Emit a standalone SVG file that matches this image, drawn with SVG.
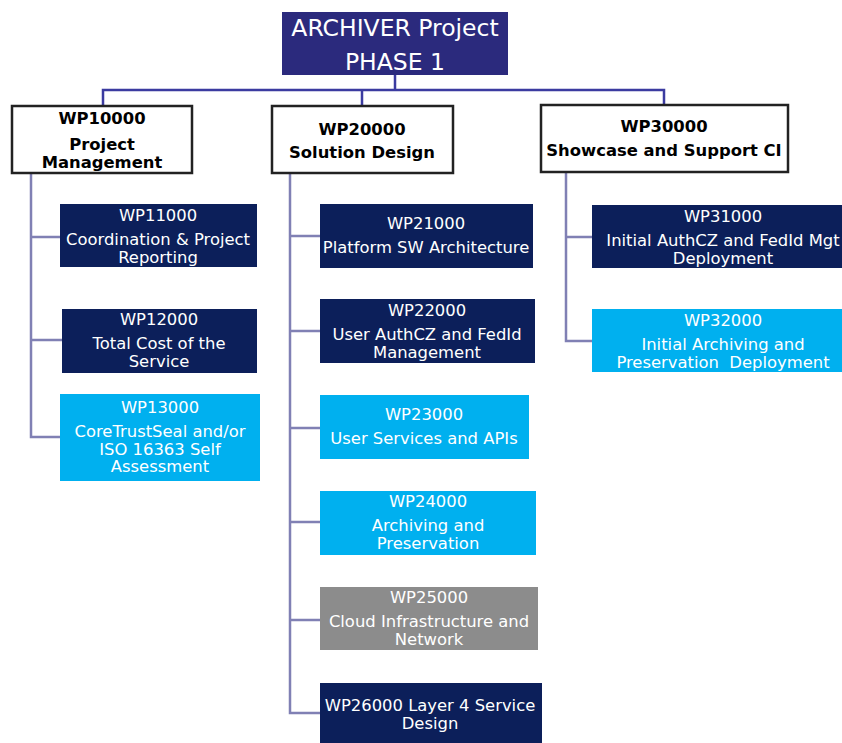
<svg xmlns="http://www.w3.org/2000/svg" width="842" height="743" viewBox="0 0 842 743">
<style>
text{font-family:"DejaVu Sans","Liberation Sans",sans-serif;text-anchor:middle}
.w{fill:#fff;font-size:16.4px}
.b{fill:#000;font-size:16.4px;font-weight:bold}
.r{fill:#fff;font-size:23.5px}
.hd{fill:#fff;stroke:#222;stroke-width:2.5}
.dk{fill:#0c1f5a}
.lt{fill:#00b0ef}
.gy{fill:#8c8c8c}
.ln{fill:none;stroke:#8080b4;stroke-width:2.5}
.tl{fill:none;stroke:#3b3ba0;stroke-width:2.5}
</style>
<rect width="842" height="743" fill="#fff"/>
<g id="connectors">
<path class="tl" d="M395 75V90M103 105V90H664V104M362 90V106"/>
<path class="ln" d="M31 173V437H60M31 237H60M31 340H62"/>
<path class="ln" d="M290 174V713H320M290 236H320M290 331H320M290 428H320M290 522H320M290 620H320"/>
<path class="ln" d="M566 173V341H592M566 237H592"/>
</g>
<g id="root"><rect x="282" y="12" width="226" height="63" fill="#2b2a7d"/>
<text class="r" x="395" y="35.5">ARCHIVER Project</text><text class="r" x="395" y="69.5">PHASE 1</text></g>
<g id="wp10000"><rect class="hd" x="12" y="106" width="180" height="67"/>
<text class="b" x="102" y="124">WP10000</text><text class="b" x="102" y="150">Project</text><text class="b" x="102" y="168">Management</text></g>
<g id="wp20000"><rect class="hd" x="272" y="106" width="181" height="67"/>
<text class="b" x="362" y="135">WP20000</text><text class="b" x="362" y="158">Solution Design</text></g>
<g id="wp30000"><rect class="hd" x="541" y="105" width="247" height="67"/>
<text class="b" x="664" y="132">WP30000</text><text class="b" x="664" y="156">Showcase and Support CI</text></g>
<g id="wp11000"><rect class="dk" x="60" y="204" width="197" height="63"/>
<text class="w" x="158" y="221">WP11000</text><text class="w" x="158" y="245">Coordination &amp; Project</text><text class="w" x="158" y="263">Reporting</text></g>
<g id="wp12000"><rect class="dk" x="62" y="309" width="195" height="64"/>
<text class="w" x="159" y="325">WP12000</text><text class="w" x="159" y="349">Total Cost of the</text><text class="w" x="159" y="367">Service</text></g>
<g id="wp13000"><rect class="lt" x="60" y="394" width="200" height="87"/>
<text class="w" x="160" y="413">WP13000</text><text class="w" x="160" y="437">CoreTrustSeal and/or</text><text class="w" x="160" y="454.5">ISO 16363 Self</text><text class="w" x="160" y="472">Assessment</text></g>
<g id="wp21000"><rect class="dk" x="320" y="204" width="213" height="64"/>
<text class="w" x="426" y="229">WP21000</text><text class="w" x="426" y="253">Platform SW Architecture</text></g>
<g id="wp22000"><rect class="dk" x="320" y="299" width="215" height="64"/>
<text class="w" x="427" y="316">WP22000</text><text class="w" x="427" y="340">User AuthCZ and FedId</text><text class="w" x="427" y="358">Management</text></g>
<g id="wp23000"><rect class="lt" x="320" y="395" width="209" height="64"/>
<text class="w" x="424" y="420">WP23000</text><text class="w" x="424" y="444">User Services and APIs</text></g>
<g id="wp24000"><rect class="lt" x="320" y="491" width="216" height="64"/>
<text class="w" x="428" y="507">WP24000</text><text class="w" x="428" y="531">Archiving and</text><text class="w" x="428" y="549">Preservation</text></g>
<g id="wp25000"><rect class="gy" x="320" y="587" width="218" height="63"/>
<text class="w" x="429" y="603">WP25000</text><text class="w" x="429" y="627">Cloud Infrastructure and</text><text class="w" x="429" y="645">Network</text></g>
<g id="wp26000"><rect class="dk" x="320" y="683" width="222" height="60"/>
<text class="w" x="430" y="711">WP26000 Layer 4 Service</text><text class="w" x="430" y="729">Design</text></g>
<g id="wp31000"><rect class="dk" x="592" y="205" width="250" height="63"/>
<text class="w" x="723" y="222">WP31000</text><text class="w" x="723" y="246">Initial AuthCZ and FedId Mgt</text><text class="w" x="723" y="264">Deployment</text></g>
<g id="wp32000"><rect class="lt" x="592" y="309" width="250" height="63"/>
<text class="w" x="723" y="326">WP32000</text><text class="w" x="723" y="350">Initial Archiving and</text><text class="w" x="723" y="368" style="white-space:pre">Preservation  Deployment</text></g>
</svg>
